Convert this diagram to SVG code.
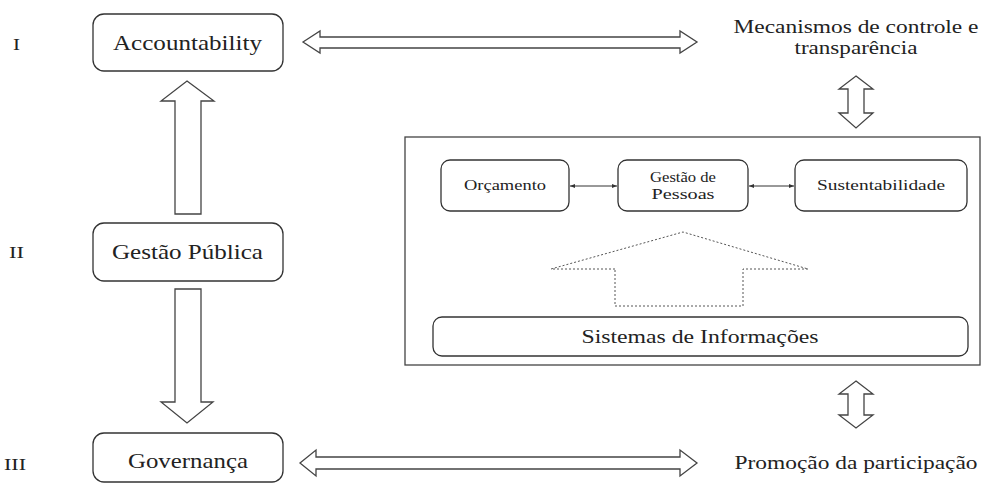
<svg xmlns="http://www.w3.org/2000/svg" width="985" height="486" viewBox="0 0 985 486">
<defs>
<style>
.box{fill:#fff;stroke:#333;stroke-width:1.3}
.bigarrow{fill:#fff;stroke:#444;stroke-width:1.3;stroke-linejoin:miter}
.dot{fill:none;stroke:#555;stroke-width:1;stroke-dasharray:2,2}
.thin{stroke:#333;stroke-width:1;fill:none}
text{font-family:"Liberation Serif","Times New Roman",serif;fill:#222}
</style>
<marker id="ah" viewBox="0 0 10 10" refX="10" refY="5" markerWidth="7" markerHeight="5" orient="auto-start-reverse" markerUnits="userSpaceOnUse">
<path d="M0,1 L10,5 L0,9 Z" fill="#333"/>
</marker>
</defs>
<rect width="985" height="486" fill="#fff"/>

<g id="labels">
<text x="13" y="50" font-size="16" textLength="7" lengthAdjust="spacingAndGlyphs">I</text>
<text x="9" y="258" font-size="16" textLength="15" lengthAdjust="spacingAndGlyphs">II</text>
<text x="4" y="470" font-size="16" textLength="22" lengthAdjust="spacingAndGlyphs">III</text>
</g>

<g id="accountability">
<rect class="box" x="93" y="14" width="190" height="57" rx="11"/>
<text x="113" y="50" font-size="21" textLength="149" lengthAdjust="spacingAndGlyphs">Accountability</text>
</g>

<g id="gestao-publica">
<rect class="box" x="93" y="223" width="190" height="58" rx="11"/>
<text x="112" y="259" font-size="21" textLength="151" lengthAdjust="spacingAndGlyphs">Gestão Pública</text>
</g>

<g id="governanca">
<rect class="box" x="93" y="433" width="190" height="49" rx="11"/>
<text x="128" y="468" font-size="21" textLength="120" lengthAdjust="spacingAndGlyphs">Governança</text>
</g>

<g id="mecanismos">
<text x="856" y="33" font-size="19" text-anchor="middle" textLength="245" lengthAdjust="spacingAndGlyphs">Mecanismos de controle e</text>
<text x="856" y="54" font-size="19" text-anchor="middle" textLength="123" lengthAdjust="spacingAndGlyphs">transparência</text>
</g>

<g id="promocao">
<text x="856" y="469" font-size="19" text-anchor="middle" textLength="243" lengthAdjust="spacingAndGlyphs">Promoção da participação</text>
</g>

<g id="painel">
<rect x="405" y="137" width="575" height="228" fill="#fff" stroke="#444" stroke-width="1.3"/>
</g>

<g id="orcamento">
<rect class="box" x="441" y="160" width="128" height="51" rx="9"/>
<text x="505" y="190" font-size="15" text-anchor="middle" textLength="82" lengthAdjust="spacingAndGlyphs">Orçamento</text>
</g>

<g id="gestao-pessoas">
<rect class="box" x="618" y="160" width="130" height="51" rx="9"/>
<text x="683" y="182" font-size="15" text-anchor="middle" textLength="66" lengthAdjust="spacingAndGlyphs">Gestão de</text>
<text x="683" y="199" font-size="15" text-anchor="middle" textLength="63" lengthAdjust="spacingAndGlyphs">Pessoas</text>
</g>

<g id="sustentabilidade">
<rect class="box" x="795" y="160" width="172" height="51" rx="9"/>
<text x="881" y="190" font-size="15" text-anchor="middle" textLength="128" lengthAdjust="spacingAndGlyphs">Sustentabilidade</text>
</g>

<g id="sistemas">
<rect class="box" x="433" y="317" width="535" height="39" rx="9"/>
<text x="700" y="343" font-size="19" text-anchor="middle" textLength="237" lengthAdjust="spacingAndGlyphs">Sistemas de Informações</text>
</g>

<g id="connectors">
<!-- top horizontal double arrow -->
<path class="bigarrow" d="M303,42 L320,31 L320,37 L680,37 L680,31 L697,42 L680,53 L680,48 L320,48 L320,53 Z"/>
<!-- bottom horizontal double arrow -->
<path class="bigarrow" d="M300,463 L316,450 L316,457 L680,457 L680,450 L697,463 L680,476 L680,469 L316,469 L316,476 Z"/>
<!-- up arrow Gestao Publica -> Accountability -->
<path class="bigarrow" d="M187,81 L214,101 L201,101 L201,214 L175,214 L175,101 L161,101 Z"/>
<!-- down arrow Gestao Publica -> Governanca -->
<path class="bigarrow" d="M175,289 L201,289 L201,402 L213,402 L187,423 L161,402 L175,402 Z"/>
<!-- vertical double arrow top -->
<path class="bigarrow" d="M856,76 L873,89 L864,89 L864,113 L873,113 L856,128 L839,113 L848,113 L848,89 L839,89 Z"/>
<!-- vertical double arrow bottom -->
<path class="bigarrow" d="M856,381 L873,394 L864,394 L864,415 L873,415 L856,428 L839,415 L848,415 L848,394 L839,394 Z"/>
<!-- dotted arrow -->
<path class="dot" d="M551,269 L683,232 L808,269 M615,269 L551,269 M808,269 L743,269 L743,306 L615,306 L615,269"/>
<!-- small arrows -->
<line class="thin" x1="570" y1="186" x2="617" y2="186" marker-start="url(#ah)" marker-end="url(#ah)"/>
<line class="thin" x1="749" y1="186" x2="794" y2="186" marker-start="url(#ah)" marker-end="url(#ah)"/>
</g>
</svg>
